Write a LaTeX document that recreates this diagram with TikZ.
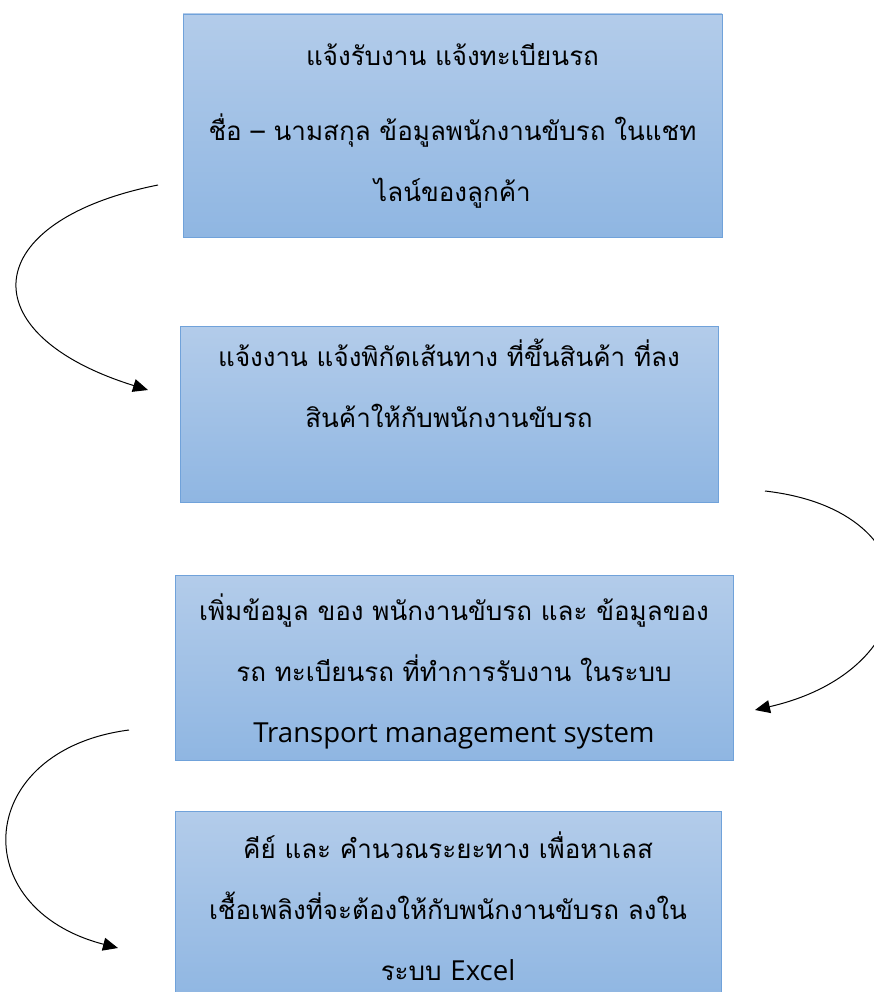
\documentclass[tikz,border=0pt]{standalone}
\usepackage{fontspec}
\setmainfont[Script=Thai]{Loma}
\newfontfamily\latinfont[Scale=1.06]{Open Sans}
\usepackage{tikz}
\usetikzlibrary{arrows.meta}
\definecolor{boxtop}{RGB}{179,204,234}
\definecolor{boxbottom}{RGB}{143,182,226}
\definecolor{boxline}{RGB}{112,162,218}
\tikzstyle{stepbox} = [draw=boxline, line width=0.8pt, top color=boxtop, bottom color=boxbottom, align=center, inner sep=0pt, font=\fontsize{26}{61}\selectfont]
\tikzstyle{flowarrow} = [draw, line width=1pt, -{Triangle[length=15pt, width=13pt]}]

\begin{document}
\begin{tikzpicture}[x=1pt, y=-1pt]
	\useasboundingbox (0,0) rectangle (874,992);
	\clip (0,0) rectangle (874,992);

	% the four steps, top to bottom
	\node [stepbox, minimum width=539pt, minimum height=223pt] (notify) at (452.5,125.5)
		{แจ้งรับงาน แจ้งทะเบียนรถ\\[14pt] ชื่อ – นามสกุล ข้อมูลพนักงานขับรถ ในแชท\\ ไลน์ของลูกค้า};
	\node [stepbox, minimum width=538pt, minimum height=176pt] (route) at (449,414)
		{แจ้งงาน แจ้งพิกัดเส้นทาง ที่ขึ้นสินค้า ที่ลง\\ สินค้าให้กับพนักงานขับรถ\\ \mbox{}};
	\node [stepbox, minimum width=558pt, minimum height=185pt] (tms) at (454,667.5)
		{\rule{0pt}{34pt}เพิ่มข้อมูล ของ พนักงานขับรถ และ ข้อมูลของ\\ รถ ทะเบียนรถ ที่ทำการรับงาน ในระบบ\\ {\latinfont Transport management system}};
	\node [stepbox, minimum width=546pt, minimum height=190pt] (excel) at (448,906)
		{คีย์ และ คำนวณระยะทาง เพื่อหาเลส\\ เชื้อเพลิงที่จะต้องให้กับพนักงานขับรถ ลงใน\\ ระบบ {\latinfont Excel}};

	% curved arrows between the steps
	\coordinate (a1start) at (158,185);
	\coordinate (a1end) at (148,390);
	\coordinate (a2start) at (765,491);
	\coordinate (a2end) at (755,710);
	\coordinate (a3start) at (129,730);
	\coordinate (a3end) at (118,948);

	\path [flowarrow] (a1start) .. controls +(-180,36) and +(-180,-56) .. (a1end);
	\path [flowarrow] (a2start) .. controls +(175,20) and +(175,-40) .. (a2end);
	\path [flowarrow] (a3start) .. controls +(-154,20) and +(-154,-40) .. (a3end);
\end{tikzpicture}
\end{document}
